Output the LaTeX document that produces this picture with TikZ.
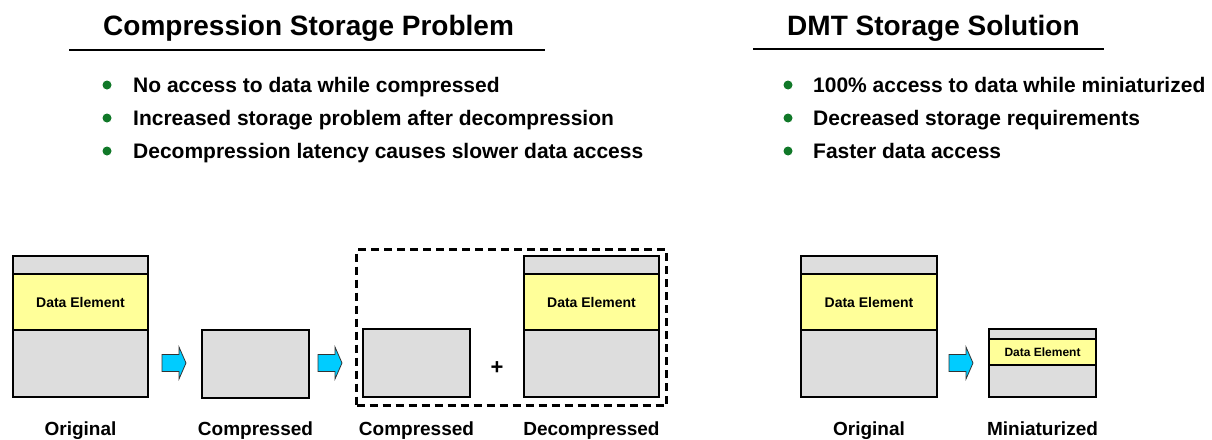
\documentclass[tikz,border=0pt]{standalone}
\usepackage{fontspec}
\setmainfont{Liberation Sans}
\usepackage{tikz}
\usetikzlibrary{positioning, arrows.meta, calc}

\definecolor{boxgray}{RGB}{221,221,221}
\definecolor{dataYellow}{RGB}{255,255,153}
\definecolor{arrowCyan}{RGB}{0,204,255}
\definecolor{dotGreen}{RGB}{16,120,40}

\tikzset{
  title/.style={anchor=base west, inner sep=0pt, font=\fontsize{28}{32}\selectfont\bfseries},
  point/.style={anchor=base west, inner sep=0pt, font=\fontsize{21}{25}\selectfont\bfseries},
  caption/.style={anchor=base, inner sep=0pt, font=\fontsize{19}{23}\selectfont\bfseries},
  dot/.style={circle, fill=dotGreen, inner sep=0pt, minimum size=9pt},
  store/.style={draw, line width=2pt, fill=boxgray, anchor=north west, inner sep=0pt},
  data/.style={draw, line width=2pt, fill=dataYellow, anchor=north west, inner sep=0pt,
    font=\fontsize{14}{16}\selectfont\bfseries},
  pics/flow/.style={code={
    \draw[fill=arrowCyan, draw=black!80, line width=0.8pt]
      (0,-8.5) -- (17,-8.5) -- (17,-16) -- (24,0) -- (17,16) -- (17,8.5) -- (0,8.5) -- cycle;
  }}
}

\begin{document}
\begin{tikzpicture}[x=1pt, y=-1pt]
  \useasboundingbox (0,0) rectangle (1212,439);

  % Titles
  \node[title] (probtitle) at (103,35) {Compression Storage Problem};
  \node[title] (soltitle) at (787,35) {DMT Storage Solution};
  \draw[line width=2pt] (69,50) -- (545,50);
  \draw[line width=2pt] (753,49) -- (1104,49);

  % Bullet points
  \foreach \txt [count=\i] in {No access to data while compressed,
      Increased storage problem after decompression,
      Decompression latency causes slower data access} {
    \node[dot] (pdot\i) at (107,52+33*\i) {};
    \node[point] (ptxt\i) at (133,59+33*\i) {\txt};
  }
  \foreach \txt [count=\i] in {100\% access to data while miniaturized,
      Decreased storage requirements,
      Faster data access} {
    \node[dot] (sdot\i) at (788,52+33*\i) {};
    \node[point] (stxt\i) at (813,59+33*\i) {\txt};
  }

  % Compression side
  \node[store, minimum width=135, minimum height=141] (orig) at (12,255) {};
  \node[data, minimum width=135, minimum height=56] (origdata) at (12,273) {Data Element};
  \pic at (162,363) {flow};
  \node[store, minimum width=107, minimum height=68] (comp) at (201,329) {};
  \pic at (318,363) {flow};

  \node[draw, line width=3pt, dash pattern=on 8pt off 5pt, anchor=north west,
    minimum width=310, minimum height=156, inner sep=0pt] (group) at (355,248) {};
  \node[store, minimum width=107, minimum height=68] (comptwo) at (362,328) {};
  \node[inner sep=0pt, font=\fontsize{22}{24}\selectfont\bfseries] (plus) at (497,368) {+};
  \node[store, minimum width=135, minimum height=141] (decomp) at (523,255) {};
  \node[data, minimum width=135, minimum height=56] (decompdata) at (523,273) {Data Element};

  % DMT side
  \node[store, minimum width=136, minimum height=141] (origtwo) at (800,255) {};
  \node[data, minimum width=136, minimum height=56] (origtwodata) at (800,273) {Data Element};
  \pic at (949,363) {flow};
  \node[store, minimum width=107, minimum height=68] (mini) at (988,328) {};
  \node[data, minimum width=107, minimum height=26, font=\fontsize{12}{14}\selectfont\bfseries]
    (minidata) at (988,338) {Data Element};

  % Captions
  \node[caption] (origlbl) at (orig.south |- 0,435) {Original};
  \node[caption] (complbl) at (comp.south |- 0,435) {Compressed};
  \node[caption] (comptwolbl) at (comptwo.south |- 0,435) {Compressed};
  \node[caption] (decomplbl) at (decomp.south |- 0,435) {Decompressed};
  \node[caption] (origtwolbl) at (origtwo.south |- 0,435) {Original};
  \node[caption] (minilbl) at (mini.south |- 0,435) {Miniaturized};
\end{tikzpicture}
\end{document}
